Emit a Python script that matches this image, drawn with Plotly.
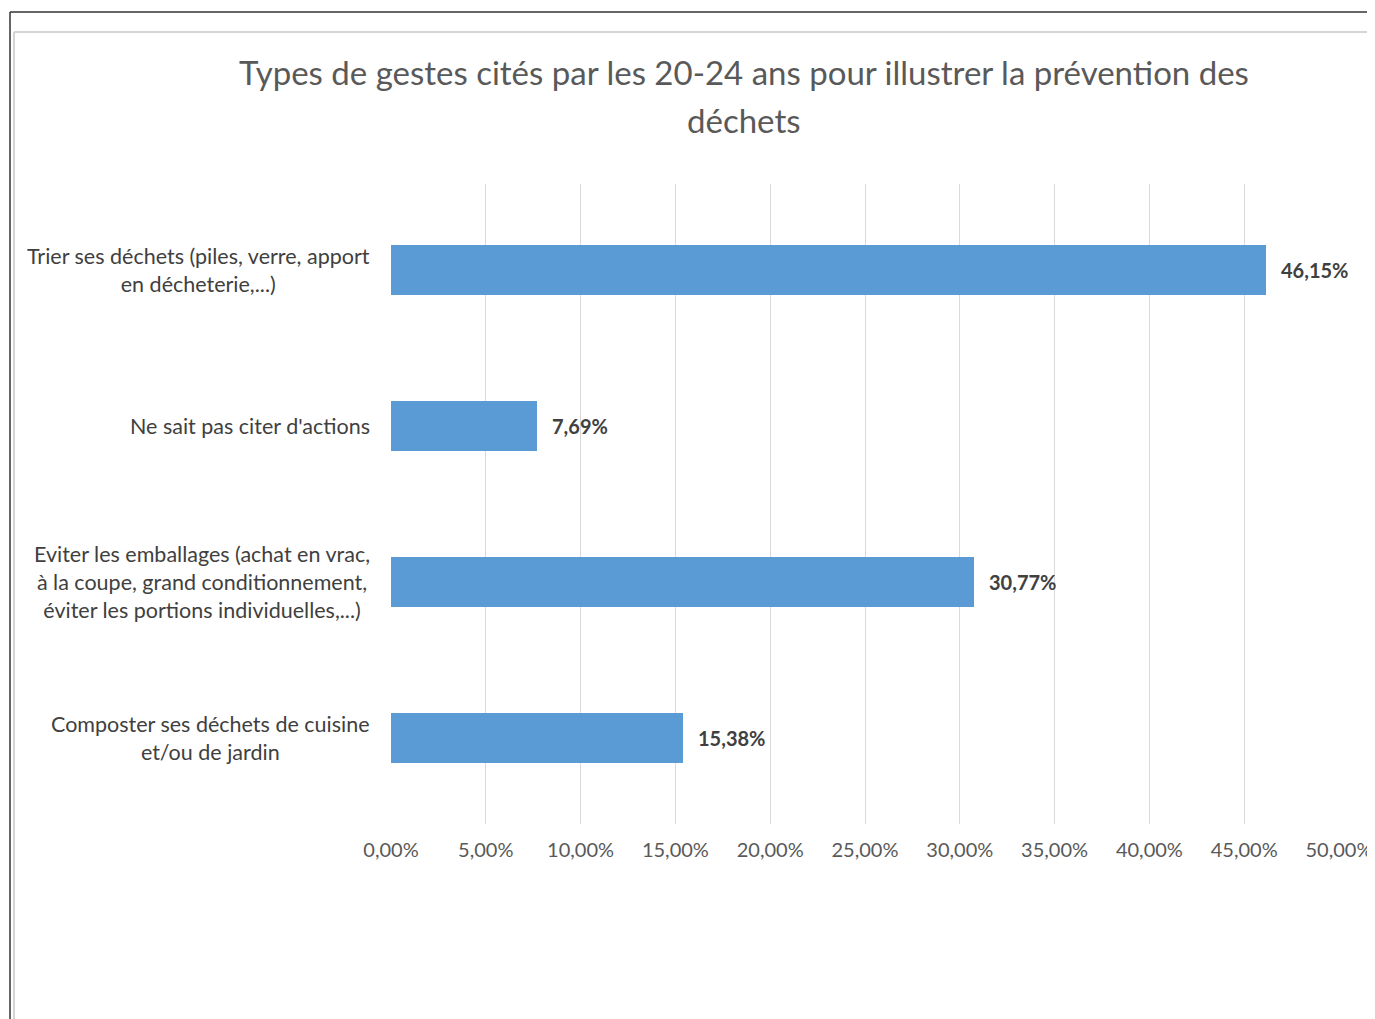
import plotly.graph_objects as go

categories = [
    "Trier ses déchets (piles, verre, apport<br>en décheterie,...)",
    "Ne sait pas citer d'actions",
    "Eviter les emballages (achat en vrac,<br>à la coupe, grand conditionnement,<br>éviter les portions individuelles,...)",
    "Composter ses déchets de cuisine<br>et/ou de jardin",
]
values = [46.15, 7.69, 30.77, 15.38]
value_labels = ["46,15%", "7,69%", "30,77%", "15,38%"]
tick_vals = [0, 5, 10, 15, 20, 25, 30, 35, 40, 45, 50]
tick_text = ["0,00%", "5,00%", "10,00%", "15,00%", "20,00%", "25,00%",
             "30,00%", "35,00%", "40,00%", "45,00%", "50,00%"]
title_lines = ["Types de gestes cités par les 20-24 ans pour illustrer la prévention des",
               "déchets"]

OFF = 8  # browser body margin
W, H = 1375, 1019 - OFF
L, R, T, B = 391 - OFF, 1339 - OFF, 184 - OFF, 824 - OFF
FONT = "Lato"

ypos = list(range(len(categories)))

fig = go.Figure()
fig.add_trace(go.Bar(
    x=values, y=ypos, orientation="h",
    marker=dict(color="#5B9BD5", line=dict(width=0)),
    width=0.32, hoverinfo="skip",
))


def px2x(px):
    return (px - OFF - L) / (R - L)


def py2y(py):
    return (B - (py - OFF)) / (B - T)


annotations = []
for yi, v, lab in zip(ypos, values, value_labels):
    annotations.append(dict(x=v, y=yi, xref="x", yref="y", text="<b>" + lab + "</b>",
                            showarrow=False, xanchor="left", yanchor="middle", xshift=13,
                            font=dict(family=FONT, size=20, color="#404040")))
for yi, cat in zip(ypos, categories):
    annotations.append(dict(x=0, y=yi, xref="paper", yref="y", text=cat,
                            showarrow=False, xanchor="right", yanchor="middle", xshift=-19,
                            align="center",
                            font=dict(family=FONT, size=21.5, color="#404040")))
for line, cy in zip(title_lines, [72, 120]):
    annotations.append(dict(x=px2x(744), y=py2y(cy), xref="paper", yref="paper", text=line,
                            showarrow=False, xanchor="center", yanchor="middle",
                            font=dict(family=FONT, size=33, color="#595959")))

shapes = [
    dict(type="line", xref="paper", yref="paper", x0=px2x(10), x1=px2x(1390), y0=py2y(12), y1=py2y(12),
         line=dict(color="#333333", width=1.5)),
    dict(type="line", xref="paper", yref="paper", x0=px2x(10), x1=px2x(10), y0=py2y(12), y1=py2y(1025),
         line=dict(color="#333333", width=1.5)),
    dict(type="line", xref="paper", yref="paper", x0=px2x(14), x1=px2x(1390), y0=py2y(32), y1=py2y(32),
         line=dict(color="#D4D4D4", width=2)),
    dict(type="line", xref="paper", yref="paper", x0=px2x(14), x1=px2x(14), y0=py2y(32), y1=py2y(1025),
         line=dict(color="#D4D4D4", width=2)),
]

fig.update_layout(
    width=W, height=H,
    margin=dict(l=L, r=W - R, t=T, b=H - B, autoexpand=False),
    paper_bgcolor="white", plot_bgcolor="white",
    showlegend=False,
    xaxis=dict(range=[0, 50], tickvals=tick_vals, ticktext=tick_text,
               showgrid=True, gridcolor="#D9D9D9", gridwidth=1, zeroline=False,
               showline=False, ticks="", ticklabelstandoff=12,
               tickfont=dict(family=FONT, size=20, color="#595959")),
    yaxis=dict(range=[3.55, -0.55], showticklabels=False, showgrid=False, zeroline=False,
               showline=False, ticks=""),
    annotations=annotations,
    shapes=shapes,
    bargap=0,
)

fig.write_html("out.html")
